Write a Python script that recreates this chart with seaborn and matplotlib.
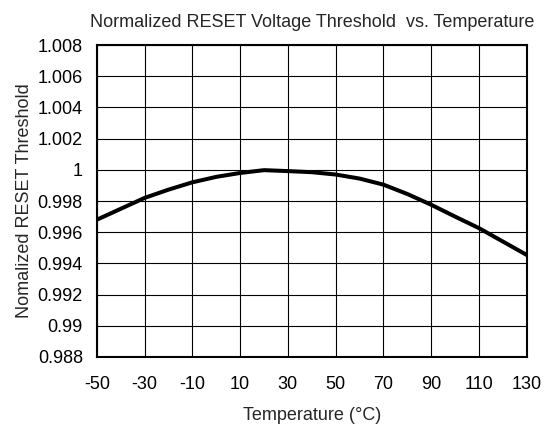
import numpy as np
import pandas as pd
import matplotlib
matplotlib.use("Agg")
import matplotlib.pyplot as plt
import seaborn as sns

# data
temperature = [-50, -40, -30, -20, -10, 0, 10, 20, 30, 40, 50, 60, 70, 80, 90, 100, 110, 120, 130]
threshold = [0.9968, 0.9975, 0.9982, 0.99873, 0.9992, 0.99955, 0.9998, 0.99998, 0.99992, 0.99985,
             0.9997, 0.99944, 0.99905, 0.99845, 0.99776, 0.9970, 0.99626, 0.9954, 0.99454]

x_ticks = [-50, -30, -10, 10, 30, 50, 70, 90, 110, 130]
y_ticks = [0.988, 0.99, 0.992, 0.994, 0.996, 0.998, 1.0, 1.002, 1.004, 1.006, 1.008]
y_tick_labels = ["0.988", "0.99", "0.992", "0.994", "0.996", "0.998", "1", "1.002", "1.004", "1.006", "1.008"]

df = pd.DataFrame({"Temperature": temperature, "Threshold": threshold})

sns.set_style("white")
plt.rcParams["font.family"] = ["Liberation Sans", "DejaVu Sans"]

fig = plt.figure(figsize=(5.47, 4.30), dpi=100)
ax = fig.add_axes([0.177, 0.170, 0.786, 0.725])

sns.lineplot(data=df, x="Temperature", y="Threshold", ax=ax, color="black", linewidth=2.9)

ax.set_xlim(-50, 130)
ax.set_ylim(0.988, 1.008)
ax.set_xticks(x_ticks)
ax.set_xticklabels([str(t) for t in x_ticks])
ax.set_yticks(y_ticks)
ax.set_yticklabels(y_tick_labels)
ax.grid(True, color="black", linewidth=0.8)
ax.set_axisbelow(True)
ax.tick_params(axis="both", length=0, labelsize=13, colors="black")
ax.tick_params(axis="x", pad=14)
ax.tick_params(axis="y", pad=10)
for s in ax.spines.values():
    s.set_color("black")
    s.set_linewidth(1.5)

ax.set_xlabel("Temperature (°C)", fontsize=13, labelpad=10)
ax.set_ylabel("Nomalized RESET Threshold", fontsize=13, labelpad=3)
ax.set_title("Normalized RESET Voltage Threshold  vs. Temperature", fontsize=13, pad=13)

fig.savefig("out.png", dpi=100)
